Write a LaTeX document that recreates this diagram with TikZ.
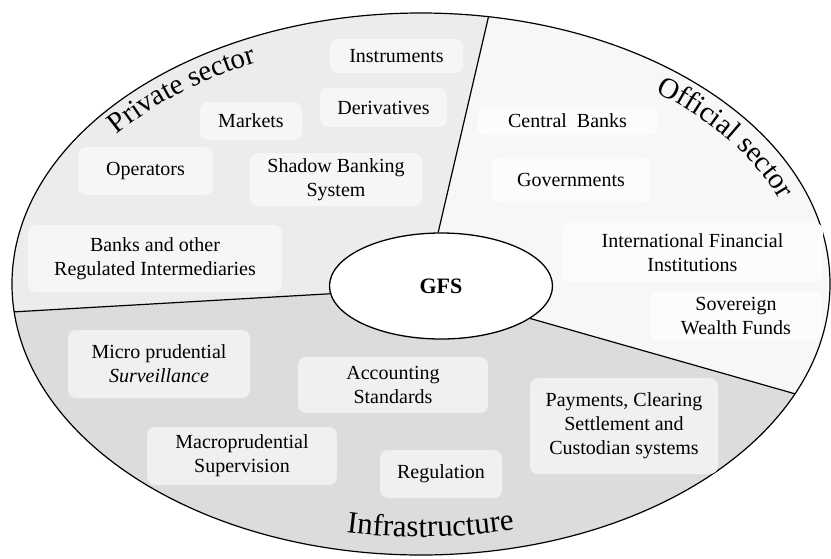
\documentclass[tikz,border=0pt]{standalone}
\usepackage{fontspec}
\setmainfont{Liberation Serif}
\usetikzlibrary{shapes.geometric,decorations.text,backgrounds}

\definecolor{privbg}{HTML}{ECECEC}
\definecolor{privbox}{HTML}{F6F6F6}
\definecolor{offbg}{HTML}{F7F7F7}
\definecolor{offbox}{HTML}{FCFCFC}
\definecolor{infrabg}{HTML}{DCDCDC}
\definecolor{infrabox}{HTML}{F0F0F0}

\newcommand{\boxfont}{\fontsize{20}{24}\selectfont}
\newcommand{\sectfont}{\fontsize{29}{33}\selectfont}
\newcommand{\basefont}{\fontsize{31}{35}\selectfont}

\begin{document}
\begin{tikzpicture}[x=1pt, y=1pt,
  item/.style={rounded corners=8pt, align=center, font=\boxfont, inner sep=0pt},
  rim/.style={black, line width=1.2pt}]
  \useasboundingbox (0,0) rectangle (831,-558);
  \coordinate (mid) at (421,-284);
  \path (mid) ++(80.5:409 and 271) coordinate (cutA);
  \path (mid) ++(185.9:409 and 271) coordinate (cutB);
  \path (mid) ++(-23.9:409 and 271) coordinate (cutC);

  \node[ellipse, draw, line width=1.3pt, fill=white, minimum width=223pt, minimum height=106pt,
        font=\bfseries\fontsize{22}{24}\selectfont] (gfs) at (441,-286) {GFS};

  % the three sectors
  \begin{scope}[on background layer]
    \fill[infrabg] (mid) ellipse[x radius=409, y radius=271];
    \clip (mid) ellipse[x radius=409, y radius=271];
    \fill[privbg] (gfs.center) -- (gfs.93) -- (cutA) -- (cutA |- 0,20) -- (-10,20)
      -- (-10,0 |- cutB) -- (cutB) -- (gfs.184) -- cycle;
    \fill[offbg] (gfs.center) -- (gfs.93) -- (cutA) -- (cutA |- 0,20) -- (850,20)
      -- (850,0 |- cutC) -- (cutC) -- (gfs.-20) -- cycle;
  \end{scope}

  \draw[rim] (gfs.93) -- (cutA);
  \draw[rim] (gfs.184) -- (cutB);
  \draw[rim] (gfs.-20) -- (cutC);
  \draw[rim] (mid) ellipse[x radius=409, y radius=271];

  % sector names
  \path[decorate, decoration={text along path, text={|\sectfont|Private sector}, text align=center}]
    (mid) ++(153:384 and 245) arc[start angle=153, end angle=107, x radius=384, y radius=245];
  \path[decorate, decoration={text along path, text={|\sectfont|Official sector}, text align=center}]
    (mid) ++(59:382 and 243) arc[start angle=59, end angle=11, x radius=382, y radius=243];
  \path[decorate, decoration={text along path, text={|\basefont|Infrastructure}, text align=center}]
    (mid) ++(243:392 and 253) arc[start angle=243, end angle=300, x radius=392, y radius=253];

  % private sector
  \node[item, fill=privbox, minimum width=133pt, minimum height=34pt] (instr) at (396.5,-56) {Instruments};
  \node[item, fill=privbox, minimum width=127pt, minimum height=39pt] (deriv) at (383.5,-107.5) {Derivatives};
  \node[item, fill=privbox, minimum width=102pt, minimum height=38pt] (markets) at (251,-121) {Markets};
  \node[item, fill=privbox, minimum width=135pt, minimum height=48pt] (oper) at (145.5,-171) {Operators};
  \node[item, fill=privbox, minimum width=172pt, minimum height=53pt] (shadow) at (336,-179.5) {Shadow Banking\\System};
  \node[item, fill=privbox, minimum width=254pt, minimum height=67pt] (banks) at (155,-258.5) {Banks and other\\Regulated Intermediaries};

  % official sector
  \node[item, fill=offbox, minimum width=181pt, minimum height=28pt] (cbanks) at (567.5,-121) {Central~~Banks};
  \node[item, fill=offbox, minimum width=158pt, minimum height=46pt] (govs) at (571,-180) {Governments};
  \node[item, fill=offbox, minimum width=261pt, minimum height=59pt] (ifi) at (692.5,-252.5) {International Financial\\Institutions};
  \node[item, fill=offbox, minimum width=172pt, minimum height=48pt] (swf) at (736,-316) {Sovereign\\Wealth Funds};

  % infrastructure
  \node[item, fill=infrabox, minimum width=182pt, minimum height=68pt] (micro) at (159,-364) {Micro prudential\\\textit{Surveillance}};
  \node[item, fill=infrabox, minimum width=190pt, minimum height=56pt] (acc) at (393,-385) {Accounting\\Standards};
  \node[item, fill=infrabox, minimum width=190pt, minimum height=58pt] (macro) at (242,-456) {Macroprudential\\Supervision};
  \node[item, fill=infrabox, minimum width=122pt, minimum height=48pt] (regul) at (441,-474) {Regulation};
  \node[item, fill=infrabox, minimum width=188pt, minimum height=96pt] (pay) at (624,-426) {Payments, Clearing\\Settlement and\\Custodian systems};
\end{tikzpicture}
\end{document}
